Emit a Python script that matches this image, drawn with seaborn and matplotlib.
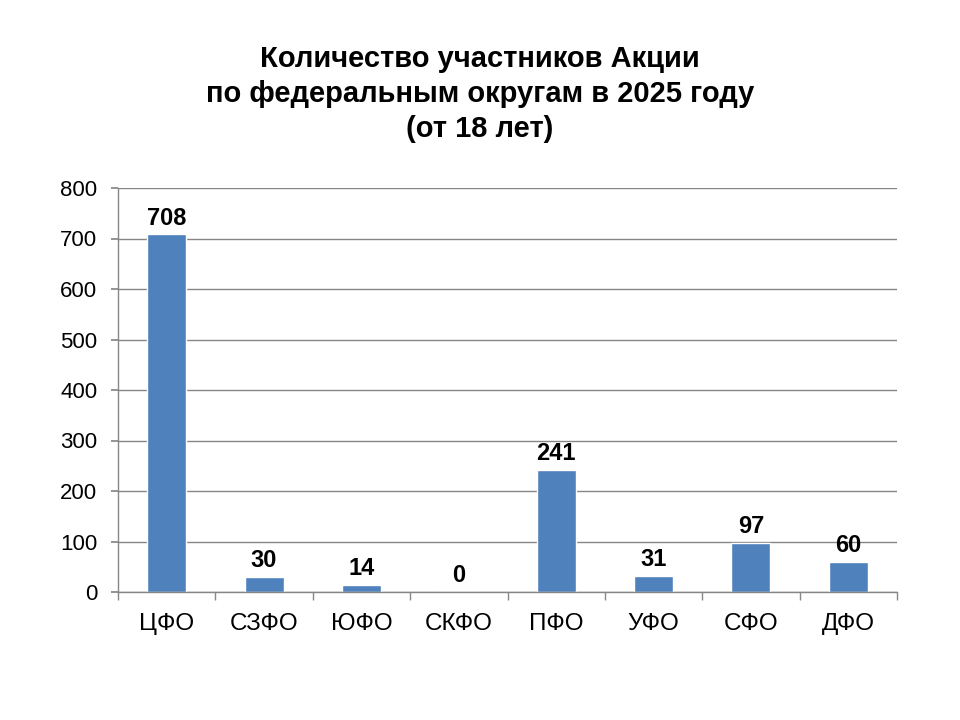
import matplotlib
matplotlib.use("Agg")
import matplotlib.pyplot as plt
import seaborn as sns
import pandas as pd
import numpy as np

categories = ["ЦФО", "СЗФО", "ЮФО", "СКФО", "ПФО", "УФО", "СФО", "ДФО"]
values = [708, 30, 14, 0, 241, 31, 97, 60]
yticks = [0, 100, 200, 300, 400, 500, 600, 700, 800]
title = "Количество участников Акции\nпо федеральным округам в 2025 году\n(от 18 лет)"

sns.set_theme(style="white")
plt.rcParams['font.family'] = ['Liberation Sans', 'DejaVu Sans']

df = pd.DataFrame({"cat": categories, "val": values})

fig = plt.figure(figsize=(9.6, 7.2), dpi=100)
ax = fig.add_axes([118/960, 1-592/720, (897-118)/960, (592-188)/720])

sns.barplot(data=df, x="cat", y="val", color="#4F81BD", width=0.4, ax=ax, saturation=1)

ax.set_ylim(0, 800)
ax.set_xlim(-0.5, len(categories)-0.5)
ax.set_yticks(yticks)
ax.set_yticklabels([str(t) for t in yticks], fontsize=16)
ax.set_xlabel("")
ax.set_ylabel("")
ax.yaxis.grid(True, color="#868686", linewidth=1)
ax.set_axisbelow(True)

for s in ["top", "right"]:
    ax.spines[s].set_visible(False)
for s in ["left", "bottom"]:
    ax.spines[s].set_color("#868686")
    ax.spines[s].set_linewidth(1)

ax.tick_params(axis="y", which="major", direction="out", length=5, color="#868686",
               left=True, pad=10, labelcolor="black")
ax.set_xticks(range(len(categories)))
ax.set_xticklabels(categories, fontsize=17.5)
ax.tick_params(axis="x", which="major", length=0, pad=15, labelcolor="black")
ax.set_xticks(np.arange(-0.5, len(categories), 1.0), minor=True)
ax.tick_params(axis="x", which="minor", direction="out", length=6, color="#868686", bottom=True)

for i, v in enumerate(values):
    ax.annotate(str(v), xy=(i, v), xytext=(0, 3.5), textcoords="offset points",
                ha="center", va="bottom", fontsize=17, fontweight="bold", color="black")

fig.text(0.5, 1-94/720, title, ha="center", va="center", fontsize=21,
         fontweight="bold", linespacing=1.32, color="black")

fig.savefig("out.png", dpi=100)
